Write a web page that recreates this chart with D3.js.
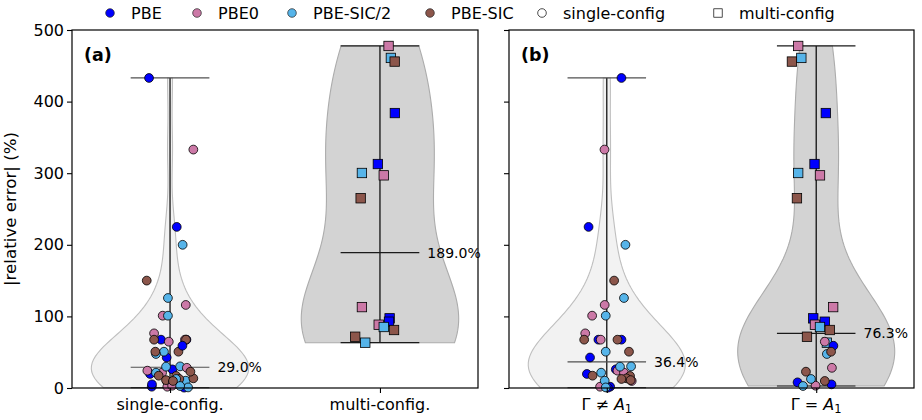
<!DOCTYPE html>
<html>
<head>
<meta charset="utf-8">
<script src="https://cdn.jsdelivr.net/npm/d3@7"></script>
<style>
  body { margin: 0; background: #fff; }
  text { font-family: "DejaVu Sans", sans-serif; fill: #000; }
</style>
</head>
<body>
<div id="chart"></div>
<script>
// functionals and their colours
const functionals = ["PBE", "PBE0", "PBE-SIC/2", "PBE-SIC"];
const funcColors = ["#0000ff", "#cc79a7", "#56b4e9", "#8c564b"];
const groupsA = ["single-config.", "multi-config."];
const yTicks = [0, 100, 200, 300, 400, 500];

// single-config, Gamma != A1 (one row per functional)
const otherVals = [
  [433, 225, 67.5, 67.5, 42.6, 26, 19.6, 1.8, 0.5],
  [333, 116, 101, 76.3, 67.5, 24.2, 21.4, 9.8, 1.8],
  [200, 125.7, 101, 50.7, 30.2, 29.8, 21.4, 10.2, 0.8],
  [150, 67.5, 67.5, 50.7, 17.2, 16.8, 13.5, 12.6, 11.0]
];
// single-config, Gamma = A1
const sameVals = [
  [59, 7.9, 5.1],
  [64.7, 28.2, 3.2],
  [47.5, 12.6, 2.8],
  [50.7, 22.8, 9.8]
];
// multi-config (all Gamma = A1)
const multiVals = [
  [384, 312.8, 97.3, 92.6],
  [477.7, 297, 113, 88.4],
  [461, 300.3, 85.2, 63.3],
  [455.9, 265, 81.0, 71.6]
];

// horizontal jitter of the points (category units), as seen in each panel
const otherJitA = [
  [-0.100, 0.032, -0.043, 0.078, -0.016, 0.011, -0.095, -0.087, 0.067],
  [0.111, 0.075, -0.035, -0.076, 0.071, -0.108, -0.038, -0.016, -0.013],
  [0.060, -0.010, -0.010, -0.029, 0.048, -0.019, -0.067, 0.075, 0.086],
  [-0.111, -0.076, 0.076, 0.040, -0.054, 0.029, 0.111, 0.044, -0.019]
];
const sameJitA = [
  [0.059, 0.014, -0.086],
  [-0.006, 0.080, 0.010],
  [-0.067, 0.029, 0.048],
  [-0.070, 0.097, 0.014]
];
const multiJitA = [
  [0.071, -0.010, 0.046, 0.043],
  [0.041, 0.018, -0.086, -0.006],
  [0.052, -0.086, 0.018, -0.070],
  [0.070, -0.092, 0.067, -0.118]
];
const otherJitB = [
  [0.070, -0.087, -0.040, 0.070, -0.080, 0.043, -0.095, 0.016, 0.005],
  [-0.011, -0.010, -0.070, -0.103, -0.029, 0.051, 0.082, 0.119, -0.032],
  [0.089, 0.082, -0.005, -0.005, 0.116, 0.063, -0.027, -0.010, -0.005],
  [0.035, -0.108, 0.051, 0.106, -0.068, 0.111, 0.094, 0.070, 0.114]
];
const sameJitB = [
  [0.082, -0.089, 0.073],
  [0.041, 0.075, -0.003],
  [0.051, -0.025, -0.063],
  [0.071, -0.049, 0.041]
];
const multiJitB = [
  [0.046, -0.008, -0.014, 0.041],
  [-0.086, 0.018, 0.081, -0.006],
  [-0.071, -0.086, 0.018, 0.051],
  [-0.116, -0.092, 0.065, -0.044]
];

const width = 922, height = 420;
const plotTop = 30, plotBottom = 388;
const violinWidth = 0.75;
const tickFont = "16px";

const svg = d3.select("#chart").append("svg")
  .attr("width", width).attr("height", height);

const y = d3.scaleLinear().domain([0, 500]).range([plotBottom, plotTop]);

function collect(vals, jits, shape) {
  const out = [];
  vals.forEach((row, f) => row.forEach((v, i) => out.push({v: v, f: f, jit: jits[f][i], shape: shape})));
  return out;
}

// gaussian kde, scott's rule (like matplotlib violinplot)
function kdeCurve(values) {
  const n = values.length;
  const bw = d3.deviation(values) * Math.pow(n, -1 / 5);
  const lo = d3.min(values), hi = d3.max(values);
  const pts = d3.range(100).map(i => lo + (hi - lo) * i / 99);
  const dens = pts.map(t => d3.mean(values, v => Math.exp(-0.5 * ((t - v) / bw) ** 2)));
  const mx = d3.max(dens);
  return pts.map((t, i) => ({t: t, w: dens[i] / mx * violinWidth / 2}));
}

function drawPanel(x0, x1, tickLabels, groups, fills, lineCols, tag, showY) {
  const x = d3.scaleLinear().domain([-0.467, 1.467]).range([x0, x1]);
  const g = svg.append("g");

  groups.forEach((pts, k) => {
    const vals = pts.map(d => d.v);
    const curve = kdeCurve(vals);
    const area = d3.area()
      .x0(d => x(k - d.w)).x1(d => x(k + d.w))
      .y(d => y(d.t));
    g.append("path").datum(curve).attr("d", area)
      .attr("fill", fills[k]).attr("stroke", fills[k] === "#d3d3d3" ? "#acacac" : "#bfbfbf")
      .attr("stroke-width", 1.1);

    const lo = d3.min(vals), hi = d3.max(vals), med = d3.median(vals);
    g.append("line").attr("x1", x(k)).attr("x2", x(k)).attr("y1", y(lo)).attr("y2", y(hi))
      .attr("stroke", "#000").attr("stroke-width", 1.2);
    [lo, hi, med].forEach(v => {
      g.append("line").attr("x1", x(k - violinWidth / 4)).attr("x2", x(k + violinWidth / 4))
        .attr("y1", y(v)).attr("y2", y(v))
        .attr("stroke", lineCols[k]).attr("stroke-width", 1.2);
    });
    g.append("text").attr("x", x(k + violinWidth / 4) + 8).attr("y", y(med))
      .attr("dominant-baseline", "central").attr("font-size", "14px")
      .text(med.toFixed(1) + "%");
  });

  // points: squares first, then circles
  groups.forEach((pts, k) => {
    const sq = pts.filter(d => d.shape === "square");
    const ci = pts.filter(d => d.shape === "circle");
    g.selectAll(null).data(sq).enter().append("rect")
      .attr("x", d => x(k + d.jit) - 4.7).attr("y", d => y(d.v) - 4.7)
      .attr("width", 9.4).attr("height", 9.4)
      .attr("fill", d => funcColors[d.f]).attr("stroke", "#000").attr("stroke-width", 0.8);
    g.selectAll(null).data(ci).enter().append("circle")
      .attr("cx", d => x(k + d.jit)).attr("cy", d => y(d.v)).attr("r", 4.4)
      .attr("fill", d => funcColors[d.f]).attr("stroke", "#000").attr("stroke-width", 0.8);
  });

  // axes
  const yAxis = d3.axisLeft(y).tickValues(yTicks).tickSize(5).tickPadding(3);
  if (!showY) yAxis.tickFormat("");
  const ya = g.append("g").attr("transform", `translate(${x0},0)`).call(yAxis);
  const xAxis = d3.axisBottom(x).tickValues([0, 1]).tickSize(5).tickPadding(3).tickFormat("");
  const xa = g.append("g").attr("transform", `translate(0,${plotBottom})`).call(xAxis);
  [ya, xa].forEach(a => {
    a.select(".domain").remove();
    a.selectAll("line").attr("stroke", "#000").attr("stroke-width", 1.1);
    a.selectAll("text").attr("font-size", tickFont).attr("font-family", "DejaVu Sans").attr("fill", "#000");
  });
  tickLabels.forEach((lab, k) => lab(g.append("text").attr("x", x(k)).attr("y", plotBottom + 22)
    .attr("text-anchor", "middle").attr("font-size", tickFont)));

  g.append("rect").attr("x", x0).attr("y", plotTop).attr("width", x1 - x0).attr("height", plotBottom - plotTop)
    .attr("fill", "none").attr("stroke", "#000").attr("stroke-width", 1.2);

  g.append("text").attr("x", x0 + 12).attr("y", plotTop + 31)
    .attr("font-size", "17.5px").attr("font-weight", "bold").text(tag);
}

const plainLabel = s => t => t.text(s);
function gammaLabel(op) {
  return t => {
    t.append("tspan").text("Γ " + op + " ");
    t.append("tspan").attr("font-style", "italic").text("A");
    t.append("tspan").attr("font-size", "11.5px").attr("dy", 3).text("1");
  };
}

drawPanel(72, 478, groupsA.map(plainLabel),
  [collect(otherVals, otherJitA, "circle").concat(collect(sameVals, sameJitA, "circle")),
   collect(multiVals, multiJitA, "square")],
  ["#f2f2f2", "#d3d3d3"], ["#505050", "#1a1a1a"], "(a)", true);

drawPanel(509, 914, [gammaLabel("≠"), gammaLabel("=")],
  [collect(otherVals, otherJitB, "circle"),
   collect(multiVals, multiJitB, "square").concat(collect(sameVals, sameJitB, "circle"))],
  ["#f2f2f2", "#d3d3d3"], ["#505050", "#1a1a1a"], "(b)", false);

// y label
svg.append("text").attr("transform", `translate(16,${(plotTop + plotBottom) / 2}) rotate(-90)`)
  .attr("text-anchor", "middle").attr("font-size", "16.7px").text("|relative error| (%)");

// legend
const legend = svg.append("g").attr("transform", "translate(0,13)");
const legItems = functionals.map((f, i) => ({label: f, color: funcColors[i], shape: "circle"}))
  .concat([{label: "single-config", color: "none", shape: "circle"},
           {label: "multi-config", color: "none", shape: "square"}]);
const legX = [110, 197, 292, 430, 542, 718];
legItems.forEach((d, i) => {
  const lg = legend.append("g").attr("transform", `translate(${legX[i]},0)`);
  if (d.shape === "circle") {
    lg.append("circle").attr("r", 4.3).attr("fill", d.color === "none" ? "#fff" : d.color)
      .attr("stroke", d.color === "none" ? "#000" : "#222").attr("stroke-width", 0.7);
  } else {
    lg.append("rect").attr("x", -4.2).attr("y", -4.2).attr("width", 8.4).attr("height", 8.4)
      .attr("fill", "#fff").attr("stroke", "#000").attr("stroke-width", 0.7);
  }
  lg.append("text").attr("x", 21).attr("dominant-baseline", "central")
    .attr("font-size", "16px").text(d.label);
});
</script>
</body>
</html>
